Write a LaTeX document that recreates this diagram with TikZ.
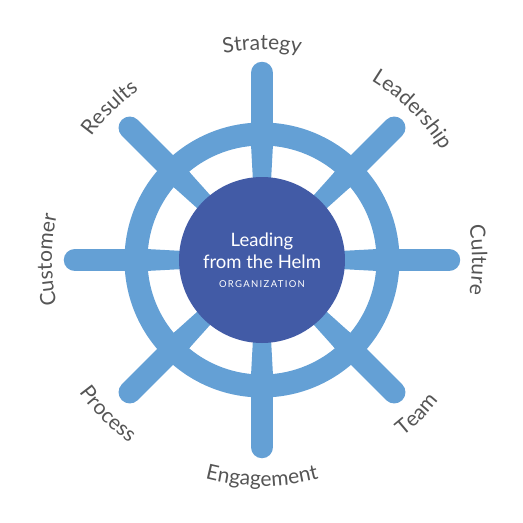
\documentclass[tikz,border=0pt]{standalone}
\usepackage{fontspec}
\setmainfont{Lato}
\newfontfamily\labelfont{Lato}
\usetikzlibrary{decorations.text}
\definecolor{spokeblue}{HTML}{64A0D5}
\definecolor{hubblue}{HTML}{425BA6}
\definecolor{lblgray}{HTML}{555555}
\tikzset{
  spokeout/.style={draw=spokeblue, line width=22.5pt, line cap=round},
  spokein/.style={fill=spokeblue},
  rim/.style={draw=spokeblue, line width=23pt},
  hubnode/.style={circle, fill=hubblue, minimum size=166pt, inner sep=0pt},
  centertext/.style={anchor=base, text=white, inner sep=0pt},
}
\newcommand{\lblfmt}{\labelfont\fontsize{21}{21}\selectfont\color{lblgray}}
\newcommand{\toplabel}[2]{% angle, text: clockwise, tops outward
  \path[decorate, decoration={text along path, text={|\lblfmt|#2}, text align=center}]
    (#1+70:210) arc[start angle=#1+70, end angle=#1-70, radius=210];}
\newcommand{\botlabel}[2]{% angle, text: counterclockwise, tops inward
  \path[decorate, decoration={text along path, text={|\lblfmt|#2}, text align=center}]
    (#1-70:226) arc[start angle=#1-70, end angle=#1+70, radius=226];}
\begin{document}
\begin{tikzpicture}[x=1pt,y=1pt]
\useasboundingbox (-262,-263) rectangle (261,260);
\foreach \a in {0,45,...,315}{
  \draw[spokeout, rotate=\a] (115,0) -- (187,0);
  \fill[spokein, rotate=\a] (60,-8) -- (125,-11.5) -- (125,11.5) -- (60,8) -- cycle;
}
\draw[rim] (0,0) circle (126);
\node[hubnode] (hub) at (0,0) {};
\node[centertext, font=\fontsize{18.5}{18.5}\selectfont] (t1) at (0,14) {Leading};
\node[centertext, font=\fontsize{18.5}{18.5}\selectfont] (t2) at (0,-8) {from the Helm};
\node[centertext, font=\fontsize{9.5}{9.5}\selectfont\addfontfeature{LetterSpace=14}] (t3) at (0,-27) {ORGANIZATION};
\toplabel{90}{Strategy}
\toplabel{45}{Leadership}
\toplabel{0}{Culture}
\toplabel{135}{Results}
\toplabel{180}{Customer}
\botlabel{-45}{Team}
\botlabel{-90}{Engagement}
\botlabel{-135}{Process}
\end{tikzpicture}
\end{document}
